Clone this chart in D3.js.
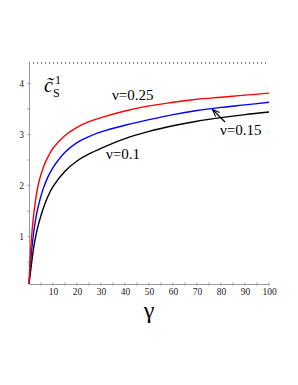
<!DOCTYPE html>
<html>
<head>
<meta charset="utf-8">
<script src="https://cdn.jsdelivr.net/npm/d3@7"></script>
<style>
  body { margin: 0; background: #fff; }
  svg { display: block; }
  .tick-label { font-family: "Liberation Serif", "Times New Roman", serif; font-size: 9.5px; fill: #222; }
  .curve-label { font-family: "Liberation Serif", "Times New Roman", serif; font-size: 15px; fill: #000; }
</style>
</head>
<body>
<div id="chart"></div>
<script>
const gammas = [0, 1, 2, 3, 4, 6, 8, 10, 15, 20, 25, 30, 40, 50, 60, 70, 80, 90, 100];
const nu025 = [0.072, 0.95, 1.45, 1.8, 2.05, 2.36, 2.57, 2.73, 2.98, 3.14, 3.25, 3.33, 3.46, 3.56, 3.63, 3.69, 3.73, 3.77, 3.81];
const nu015 = [0.072, 0.68, 1.1, 1.4, 1.62, 1.95, 2.18, 2.35, 2.65, 2.84, 2.96, 3.05, 3.18, 3.29, 3.39, 3.47, 3.53, 3.58, 3.63];
const nu010 = [0.072, 0.45, 0.8, 1.05, 1.25, 1.56, 1.8, 1.98, 2.28, 2.48, 2.62, 2.73, 2.92, 3.06, 3.17, 3.26, 3.33, 3.39, 3.44];
const xTicks = [10, 20, 30, 40, 50, 60, 70, 80, 90, 100];
const yTicks = [1, 2, 3, 4];

const width = 298, height = 385;

const x = d3.scaleLinear().domain([0, 100]).range([29, 269]);
const y = d3.scaleLinear().domain([0.072, 4.4]).range([284, 63]);

const svg = d3.select('#chart').append('svg')
  .attr('width', width)
  .attr('height', height);

// top dotted border
svg.append('line')
  .attr('x1', x(0)).attr('x2', x(100))
  .attr('y1', y(4.4)).attr('y2', y(4.4))
  .attr('stroke', '#000').attr('stroke-width', 1)
  .attr('stroke-dasharray', '1,3');

// axes
const xAxis = svg.append('g').attr('transform', 'translate(0,' + y.range()[0] + ')')
  .call(d3.axisBottom(x).tickValues(xTicks).tickSize(0).tickPadding(4));
xAxis.select('.domain').attr('stroke', '#999');
xAxis.selectAll('text').attr('class', 'tick-label').attr('font-family', null).attr('font-size', null);

svg.append('g').selectAll('line')
  .data(d3.range(5, 101, 5))
  .enter().append('line')
  .attr('x1', d => x(d)).attr('x2', d => x(d))
  .attr('y1', y.range()[0] - 1.5).attr('y2', y.range()[0] + 1.5)
  .attr('stroke', '#999');

const yAxis = svg.append('g').attr('transform', 'translate(' + x(0) + ',0)')
  .call(d3.axisLeft(y).tickValues(yTicks).tickFormat(d3.format('d')).tickSize(0).tickPadding(5));
yAxis.select('.domain').attr('stroke', '#999');
yAxis.selectAll('text').attr('class', 'tick-label').attr('font-family', null).attr('font-size', null);

svg.append('g').selectAll('line')
  .data(d3.range(0.5, 4.4, 0.5))
  .enter().append('line')
  .attr('x1', x(0) - 1.5).attr('x2', x(0) + 1.5)
  .attr('y1', d => y(d)).attr('y2', d => y(d))
  .attr('stroke', '#999');

// curves
const line = d3.line()
  .x((d, i) => x(gammas[i]))
  .y(d => y(d))
  .curve(d3.curveCatmullRom.alpha(0.5));

const series = [
  { vals: nu010, color: '#000' },
  { vals: nu015, color: '#00f' },
  { vals: nu025, color: '#f00' }
];

svg.append('g').selectAll('path')
  .data(series)
  .enter().append('path')
  .attr('d', d => line(d.vals))
  .attr('fill', 'none')
  .attr('stroke', d => d.color)
  .attr('stroke-width', 1.4);

// curve labels
svg.append('text').attr('class', 'curve-label').attr('x', 112).attr('y', 100).text('ν=0.25');
svg.append('text').attr('class', 'curve-label').attr('x', 106).attr('y', 159).text('ν=0.1');
svg.append('text').attr('class', 'curve-label').attr('x', 220).attr('y', 135).text('ν=0.15');

// arrow to the blue curve
svg.append('defs').append('marker')
  .attr('id', 'head')
  .attr('viewBox', '0 0 10 10')
  .attr('refX', 9).attr('refY', 5)
  .attr('markerWidth', 6).attr('markerHeight', 6)
  .attr('orient', 'auto')
  .append('path')
  .attr('d', 'M0,1 L10,5 L0,9')
  .attr('fill', 'none')
  .attr('stroke', '#000')
  .attr('stroke-width', 1.5);

svg.append('line')
  .attr('x1', 225).attr('y1', 122)
  .attr('x2', 213).attr('y2', 110)
  .attr('stroke', '#000').attr('stroke-width', 1.2)
  .attr('marker-end', 'url(#head)');

// y label  c̃ S 1
const yl = svg.append('text')
  .attr('x', 44).attr('y', 92)
  .attr('font-family', '"Liberation Serif", serif');
yl.append('tspan').attr('font-size', '20px').attr('font-style', 'italic').text('c\u0303');
yl.append('tspan').attr('font-size', '12px').attr('dy', 5).text('S');
svg.append('text')
  .attr('x', 55).attr('y', 84)
  .attr('font-family', '"Liberation Serif", serif')
  .attr('font-size', '12px')
  .text('1');

// x label
svg.append('text')
  .attr('x', x(50)).attr('y', 318)
  .attr('text-anchor', 'middle')
  .attr('font-family', '"Liberation Serif", serif')
  .attr('font-size', '24px')
  .text('γ');
</script>
</body>
</html>
